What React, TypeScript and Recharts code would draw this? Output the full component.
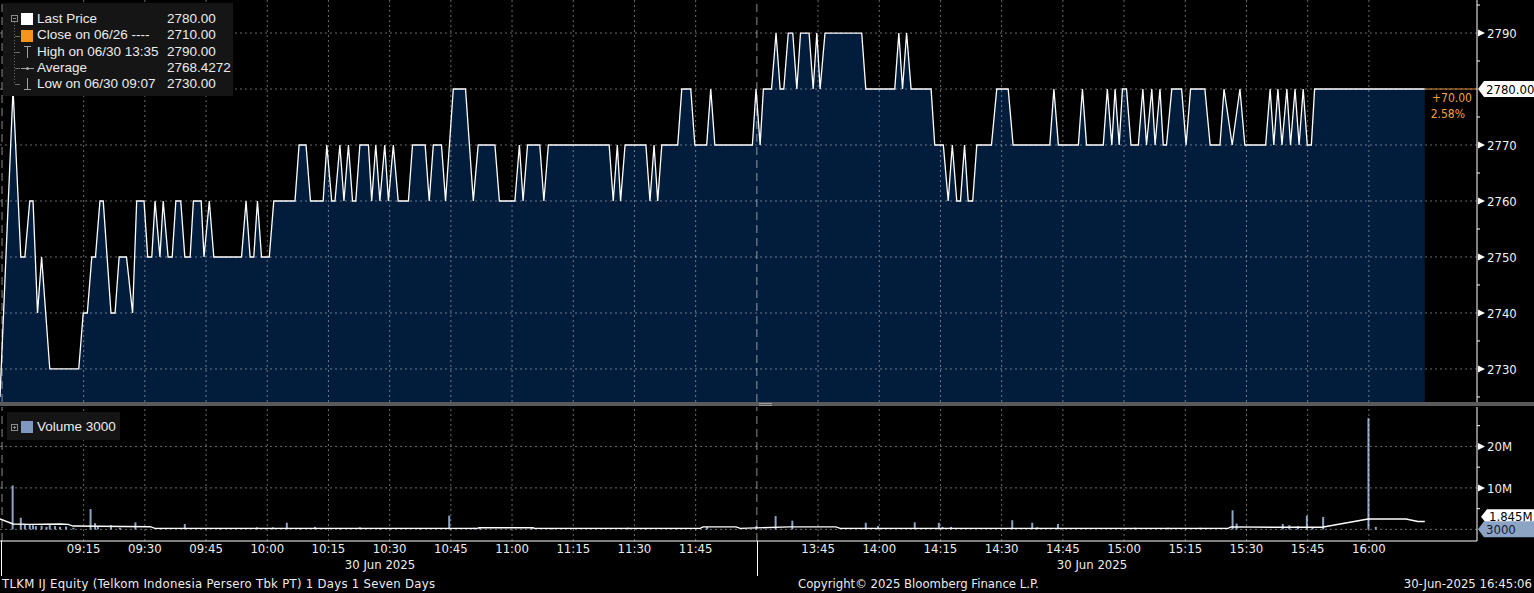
import React from 'react';
import { ComposedChart, Area, Bar, Line, XAxis, YAxis, ReferenceLine } from 'recharts';

// x values are trading minutes: 0 = 09:00, the afternoon session (13:30) starts at 180
const timeTicks = [15, 30, 45, 60, 75, 90, 105, 120, 135, 150, 165, 195, 210, 225, 240, 255, 270, 285, 300, 315, 330];
const timeLabels = [
  '09:15', '09:30', '09:45', '10:00', '10:15', '10:30', '10:45', '11:00', '11:15', '11:30', '11:45',
  '13:45', '14:00', '14:15', '14:30', '14:45', '15:00', '15:15', '15:30', '15:45', '16:00',
];
const sessionMarks = [-5, 180];
const priceGrid = [2730, 2740, 2750, 2760, 2770, 2780, 2790];
const priceTicks = [2725, 2730, 2735, 2740, 2745, 2750, 2755, 2760, 2765, 2770, 2775, 2780, 2785, 2790, 2795];
const volumeGrid = [0, 10, 20];
const volumeTicks = [0, 5, 10, 15, 20, 25];

// [minute, price]
const pricePoints: [number, number][] = [
  [-5.5, 2725], [-2.3, 2780], [-0.4, 2750], [0.6, 2750], [1.8, 2760], [2.6, 2760], [3.7, 2740], [4.7, 2750],
  [6.7, 2730], [13.8, 2730], [14.9, 2740], [15.9, 2740], [17.0, 2750], [17.9, 2750], [19.0, 2760], [19.8, 2760],
  [21.7, 2740], [22.7, 2740], [23.7, 2750], [25.5, 2750], [27.0, 2740], [28.0, 2760], [29.8, 2760], [30.7, 2750],
  [31.7, 2750], [32.5, 2760], [33.7, 2750], [34.5, 2760], [35.7, 2750], [36.7, 2750], [37.6, 2760], [38.8, 2760],
  [39.8, 2750], [41.1, 2750], [41.9, 2760], [43.8, 2760], [44.5, 2750], [45.8, 2760], [46.9, 2750], [53.7, 2750],
  [54.8, 2760], [55.8, 2750], [56.7, 2750], [57.6, 2760], [58.6, 2750], [60.5, 2750], [61.6, 2760], [66.8, 2760],
  [67.8, 2770], [69.5, 2770], [70.6, 2760], [73.7, 2760], [74.6, 2770], [75.8, 2760], [76.6, 2760], [77.8, 2770],
  [78.8, 2760], [79.9, 2770], [80.9, 2760], [81.7, 2760], [82.7, 2770], [84.8, 2770], [85.6, 2760], [86.6, 2770],
  [87.6, 2760], [88.8, 2770], [89.7, 2760], [90.9, 2770], [92.1, 2760], [94.6, 2760], [95.6, 2770], [98.7, 2770],
  [99.7, 2760], [100.7, 2770], [102.7, 2770], [103.7, 2760], [105.6, 2780], [108.6, 2780], [110.5, 2760], [111.7, 2770],
  [115.8, 2770], [116.9, 2760], [120.7, 2760], [121.8, 2770], [122.7, 2760], [123.8, 2770], [126.8, 2770], [127.8, 2760],
  [128.9, 2770], [143.8, 2770], [144.8, 2760], [145.8, 2770], [146.6, 2760], [147.7, 2770], [152.8, 2770], [153.8, 2760],
  [154.8, 2770], [155.7, 2760], [156.7, 2770], [160.6, 2770], [161.6, 2780], [163.8, 2780], [164.8, 2770], [167.7, 2770],
  [168.7, 2780], [169.7, 2770], [178.9, 2770], [179.8, 2780], [180.8, 2770], [181.6, 2780], [183.6, 2780], [184.7, 2790],
  [185.7, 2780], [186.6, 2780], [187.7, 2790], [188.8, 2790], [189.8, 2780], [190.7, 2790], [192.8, 2790], [193.8, 2780],
  [194.7, 2790], [195.5, 2780], [196.7, 2790], [205.7, 2790], [206.7, 2780], [213.8, 2780], [214.8, 2790], [215.7, 2780],
  [216.7, 2790], [217.8, 2780], [222.7, 2780], [223.6, 2770], [225.7, 2770], [226.9, 2760], [227.9, 2770], [229.0, 2760],
  [229.9, 2760], [230.9, 2770], [231.8, 2760], [232.9, 2760], [233.9, 2770], [237.5, 2770], [238.8, 2780], [241.6, 2780],
  [242.8, 2770], [251.8, 2770], [252.8, 2780], [253.9, 2770], [258.8, 2770], [259.8, 2780], [260.8, 2770], [264.9, 2770],
  [265.9, 2780], [267.0, 2770], [267.8, 2780], [268.8, 2770], [269.6, 2780], [270.6, 2780], [271.7, 2770], [273.5, 2770],
  [274.6, 2780], [275.5, 2770], [276.8, 2780], [277.6, 2770], [278.8, 2780], [279.6, 2770], [280.4, 2770], [281.7, 2780],
  [284.1, 2780], [285.2, 2770], [286.3, 2780], [289.8, 2780], [291.1, 2770], [293.5, 2770], [294.5, 2780], [296.5, 2770],
  [298.4, 2780], [299.6, 2770], [304.7, 2770], [305.8, 2780], [306.7, 2770], [307.7, 2780], [308.7, 2770], [309.9, 2780],
  [310.8, 2770], [311.9, 2780], [312.9, 2770], [313.9, 2780], [314.9, 2770], [315.9, 2770], [316.7, 2780], [343.7, 2780],
];

// [minute, volume in millions]
const volumeBars: [number, number][] = [
  [-2.4, 10.6], [-0.4, 2.8], [0.6, 1.2], [1.8, 1.3], [2.6, 1.0], [3.3, 0.8], [4.7, 0.9], [5.9, 0.6], [6.7, 1.1],
  [8.0, 0.8], [9.2, 0.6], [10.7, 0.7], [12.5, 0.4], [16.7, 4.9], [17.8, 1.5], [18.5, 0.6], [21.7, 1.0], [23.9, 0.4],
  [27.7, 1.7], [33.7, 0.3], [39.8, 1.3], [48.4, 0.3], [57.5, 0.5], [61.4, 0.5], [64.8, 1.6], [68.0, 0.3], [71.7, 0.6],
  [77.8, 0.3], [82.7, 0.5], [87.6, 0.3], [97.4, 0.2], [104.6, 3.3], [110.7, 0.4], [112.1, 0.3], [124.8, 0.3],
  [130.0, 0.2], [148.4, 0.4], [152.6, 0.2], [160.4, 0.3], [167.8, 0.6], [179.9, 0.8], [184.6, 3.2], [188.7, 2.1],
  [206.7, 1.6], [209.7, 0.8], [218.7, 1.7], [224.6, 1.6], [225.5, 0.6], [227.6, 0.6], [242.6, 2.2], [247.5, 1.6],
  [248.7, 0.5], [253.8, 1.3], [272.7, 0.4], [280.8, 0.4], [288.7, 0.4], [296.6, 4.6], [297.6, 1.4], [308.9, 1.3],
  [310.5, 1.0], [312.6, 0.8], [314.8, 3.3], [316.2, 0.6], [318.8, 3.0], [329.9, 26.8], [331.7, 0.6],
];

// [minute, moving average of volume in millions]
const volumeAvg: [number, number][] = [
  [-5.5, 2.5], [-2.3, 1.3], [1.8, 1.2], [9.2, 1.3], [11.2, 1.2], [12.4, 0.8], [31.3, 0.65], [32.5, 0.25],
  [111.4, 0.25], [112.0, 0.4], [125.1, 0.4], [125.6, 0.25], [166.1, 0.25], [166.8, 0.6], [174.9, 0.6], [175.9, 0.25],
  [187.9, 0.6], [199.4, 0.6], [200.4, 0.25], [295.5, 0.25], [296.2, 0.6], [308.5, 0.5], [318.5, 0.5], [329.8, 2.5],
  [339.1, 2.5], [342.0, 1.9], [343.7, 1.9],
];

const legendRows = [
  { label: 'Last Price', value: '2780.00' },
  { label: 'Close on 06/26 ----', value: '2710.00' },
  { label: 'High on 06/30 13:35', value: '2790.00' },
  { label: 'Average', value: '2768.4272' },
  { label: 'Low on 06/30 09:07', value: '2730.00' },
];

const axisFont = '"DejaVu Sans Condensed", "DejaVu Sans", sans-serif';
const legendFont = '"Liberation Sans", Arial, sans-serif';
const timeDomain = [-5.5, 356.5];
const gridStyle = { stroke: '#ffffff', strokeOpacity: 0.42, strokeDasharray: '2 3' };
const breakStyle = { stroke: '#ffffff', strokeOpacity: 0.55, strokeDasharray: '8 5' };

const priceData = pricePoints.map(([t, price]) => ({ t, price }));
const volumeData = [
  ...volumeBars.map(([t, vol]) => ({ t, vol, avg: undefined as number | undefined })),
  ...volumeAvg.map(([t, avg]) => ({ t, vol: 0, avg })),
].sort((a, b) => a.t - b.t);

function AxisTick(props: any) {
  const { x, y, payload, labelled, hidden, suffix } = props;
  const v = payload.value as number;
  if (hidden(v)) return <g />;
  if (!labelled(v)) return <line x1={x} x2={x + 3} y1={y} y2={y} stroke="#fff" />;
  return (
    <g>
      <path d={`M${x + 1},${y - 3.5}L${x + 8},${y}L${x + 1},${y + 3.5}Z`} fill="#fff" />
      <text x={x + 10} y={y} dy="0.36em" fill="#f0f0f0" fontSize={13} fontFamily={axisFont}>
        {v}
        {suffix}
      </text>
    </g>
  );
}

function VolumeBar(props: any) {
  const { x, width, y, height, fill } = props;
  if (!height || height <= 0) return <g />;
  return <rect x={x + width / 2 - 1} y={y} width={2} height={height} fill={fill} />;
}

function Tag({ x, y, h, bg, color, text }: { x: number; y: number; h: number; bg: string; color: string; text: string }) {
  const w = 1534 - x;
  return (
    <g>
      <path d={`M${x},${y}L${x + 6},${y - h / 2}L${x + w},${y - h / 2}L${x + w},${y + h / 2}L${x + 6},${y + h / 2}Z`} fill={bg} />
      <text x={x + 8} y={y} dy="0.36em" fill={color} fontSize={13} fontFamily={axisFont}>
        {text}
      </text>
    </g>
  );
}

function LastPriceLabel(props: any) {
  const vb = props.viewBox;
  const right = vb.x + vb.width;
  return (
    <g>
      <Tag x={right + 1} y={vb.y} h={16} bg="#ffffff" color="#000" text="2780.00" />
      <text x={right - 5} y={vb.y + 9} dy="0.36em" textAnchor="end" fill="#f0a040" fontSize={12} fontFamily={axisFont}>
        +70.00
      </text>
      <text x={right - 12} y={vb.y + 25} dy="0.36em" textAnchor="end" fill="#f0a040" fontSize={12} fontFamily={axisFont}>
        2.58%
      </text>
    </g>
  );
}

export default function App() {
  return (
    <div
      style={{
        position: 'absolute',
        left: 0,
        top: 0,
        width: 1534,
        height: 593,
        background: '#000',
        overflow: 'hidden',
        color: '#ececec',
        fontFamily: axisFont,
      }}
    >
      <div style={{ position: 'absolute', left: 0, top: 0 }}>
        <ComposedChart width={1534} height={402} data={priceData} margin={{ top: 0, right: 0, bottom: 0, left: 0 }}>
          <XAxis dataKey="t" type="number" domain={timeDomain} allowDataOverflow hide />
          <YAxis
            orientation="right"
            width={57}
            type="number"
            domain={[2724.1, 2795.9]}
            allowDataOverflow
            ticks={priceTicks}
            interval={0}
            tickSize={0}
            tickMargin={0}
            tickLine={false}
            axisLine={{ stroke: '#fff' }}
            tick={<AxisTick labelled={(v: number) => v % 10 === 0} hidden={(v: number) => v === 2780} suffix="" />}
          />
          <Area
            dataKey="price"
            type="linear"
            stroke="#ffffff"
            strokeWidth={1.3}
            fill="#021c3b"
            fillOpacity={1}
            dot={false}
            activeDot={false}
            isAnimationActive={false}
          />
          {priceGrid.map((v) => (
            <ReferenceLine key={`h${v}`} y={v} {...gridStyle} />
          ))}
          {timeTicks.map((t) => (
            <ReferenceLine key={`v${t}`} x={t} {...gridStyle} />
          ))}
          {sessionMarks.map((t) => (
            <ReferenceLine key={`s${t}`} x={t} {...breakStyle} />
          ))}
          <ReferenceLine
            segment={[
              { x: 343.7, y: 2780 },
              { x: timeDomain[1], y: 2780 },
            ]}
            stroke="#e09040"
            label={LastPriceLabel}
          />
        </ComposedChart>
      </div>

      <div style={{ position: 'absolute', left: 0, top: 404 }}>
        <ComposedChart width={1534} height={189} data={volumeData} margin={{ top: 3, right: 0, bottom: 0, left: 0 }}>
          <XAxis
            dataKey="t"
            type="number"
            domain={timeDomain}
            allowDataOverflow
            ticks={timeTicks}
            interval={0}
            height={52}
            tickSize={0}
            tickMargin={3}
            tickLine={false}
            axisLine={{ stroke: '#fff' }}
            tickFormatter={(v: number) => timeLabels[timeTicks.indexOf(v)]}
            tick={{ fill: '#ececec', fontSize: 13, fontFamily: axisFont }}
          />
          <YAxis
            orientation="right"
            width={57}
            type="number"
            domain={[-2.8, 29.5]}
            allowDataOverflow
            ticks={volumeTicks}
            interval={0}
            tickSize={0}
            tickMargin={0}
            tickLine={false}
            axisLine={{ stroke: '#fff' }}
            tick={<AxisTick labelled={(v: number) => v === 10 || v === 20} hidden={(v: number) => v === 0} suffix="M" />}
          />
          {volumeGrid.map((v) => (
            <ReferenceLine key={`h${v}`} y={v} {...gridStyle} />
          ))}
          {timeTicks.map((t) => (
            <ReferenceLine key={`v${t}`} x={t} {...gridStyle} />
          ))}
          {sessionMarks.map((t) => (
            <ReferenceLine key={`s${t}`} x={t} {...breakStyle} />
          ))}
          <Bar dataKey="vol" barSize={2} fill="#8ea4c4" shape={<VolumeBar />} isAnimationActive={false} />
          <Line
            dataKey="avg"
            type="linear"
            stroke="#ffffff"
            strokeWidth={1.4}
            dot={false}
            activeDot={false}
            connectNulls
            isAnimationActive={false}
          />
          <ReferenceLine
            y={1.845}
            strokeOpacity={0}
            label={(p: any) => <Tag x={p.viewBox.x + p.viewBox.width + 4} y={p.viewBox.y - 5} h={15} bg="#ffffff" color="#000" text="1.845M" />}
          />
          <ReferenceLine
            y={0.003}
            strokeOpacity={0}
            label={(p: any) => <Tag x={p.viewBox.x + p.viewBox.width + 1} y={p.viewBox.y} h={16} bg="#8ea4c4" color="#0d1b30" text="3000" />}
          />
        </ComposedChart>
      </div>

      {/* panel separator */}
      <div style={{ position: 'absolute', left: 0, top: 402, width: 1534, height: 4, background: '#5a5a5a' }} />
      <div style={{ position: 'absolute', left: 759, top: 403, width: 13, height: 1, background: '#9a9a9a' }} />
      <div style={{ position: 'absolute', left: 759, top: 405, width: 13, height: 1, background: '#9a9a9a' }} />

      {/* price legend */}
      <div style={{ position: 'absolute', left: 3, top: 3, width: 230, height: 93, background: '#151515' }} />
      <svg style={{ position: 'absolute', left: 0, top: 0 }} width={40} height={100}>
        <rect x={11.5} y={15.5} width={6} height={6} fill="none" stroke="#8a8a8a" />
        <line x1={13} x2={16} y1={18.5} y2={18.5} stroke="#8a8a8a" />
        <line x1={14.5} x2={14.5} y1={22} y2={85} stroke="#6a6a6a" strokeDasharray="1 2" />
        {[36, 52, 68, 84].map((y) => (
          <line key={y} x1={15} x2={20} y1={y + 0.5} y2={y + 0.5} stroke="#6a6a6a" />
        ))}
        <rect x={21} y={13} width={12} height={12} fill="#ffffff" />
        <rect x={21} y={30} width={12} height={12} fill="#f7941d" />
        <line x1={27.5} x2={27.5} y1={46} y2={58} stroke="#a0a0a0" />
        <line x1={24} x2={31} y1={46.5} y2={46.5} stroke="#a0a0a0" />
        <line x1={21} x2={34} y1={68.5} y2={68.5} stroke="#a0a0a0" />
        <circle cx={27.5} cy={68.5} r={1.6} fill="#a0a0a0" />
        <line x1={27.5} x2={27.5} y1={78} y2={90} stroke="#a0a0a0" />
        <line x1={24} x2={31} y1={89.5} y2={89.5} stroke="#a0a0a0" />
      </svg>
      {legendRows.map((r, i) => (
        <div
          key={r.label}
          style={{
            position: 'absolute',
            left: 37,
            top: 10 + i * 16.25,
            height: 17,
            lineHeight: '17px',
            fontSize: 13.5,
            fontFamily: legendFont,
            whiteSpace: 'pre',
          }}
        >
          {r.label}
          <span style={{ position: 'absolute', left: 130 }}>{r.value}</span>
        </div>
      ))}

      {/* volume legend */}
      <div style={{ position: 'absolute', left: 7, top: 412, width: 113, height: 28, background: '#151515' }} />
      <svg style={{ position: 'absolute', left: 0, top: 410 }} width={40} height={30}>
        <rect x={11.5} y={14.5} width={6} height={6} fill="none" stroke="#8a8a8a" />
        <line x1={13} x2={16} y1={17.5} y2={17.5} stroke="#8a8a8a" />
        <line x1={14.5} x2={14.5} y1={16} y2={19} stroke="#8a8a8a" />
        <rect x={21} y={11} width={12} height={12} fill="#7e98bf" />
      </svg>
      <div style={{ position: 'absolute', left: 37, top: 418, lineHeight: '17px', fontSize: 13.5, fontFamily: legendFont }}>
        Volume 3000
      </div>

      {/* date row and dividers */}
      <div style={{ position: 'absolute', left: 1, top: 541, width: 1, height: 35, background: '#fff' }} />
      <div style={{ position: 'absolute', left: 757, top: 541, width: 1, height: 35, background: '#fff' }} />
      <div style={{ position: 'absolute', left: 330, top: 557, width: 100, textAlign: 'center', fontSize: 13, lineHeight: '16px' }}>
        30 Jun 2025
      </div>
      <div style={{ position: 'absolute', left: 1042, top: 557, width: 100, textAlign: 'center', fontSize: 13, lineHeight: '16px' }}>
        30 Jun 2025
      </div>

      {/* footer */}
      <div style={{ position: 'absolute', left: 2, top: 576, fontSize: 13, letterSpacing: 0.28, lineHeight: '16px', whiteSpace: 'pre' }}>
        TLKM IJ Equity (Telkom Indonesia Persero Tbk PT) 1 Days 1 Seven Days
      </div>
      <div style={{ position: 'absolute', left: 798, top: 576, fontSize: 13, lineHeight: '16px', whiteSpace: 'pre' }}>
        Copyright© 2025 Bloomberg Finance L.P.
      </div>
      <div style={{ position: 'absolute', right: 2, top: 576, fontSize: 13, lineHeight: '16px', whiteSpace: 'pre' }}>
        30-Jun-2025 16:45:06
      </div>
    </div>
  );
}
